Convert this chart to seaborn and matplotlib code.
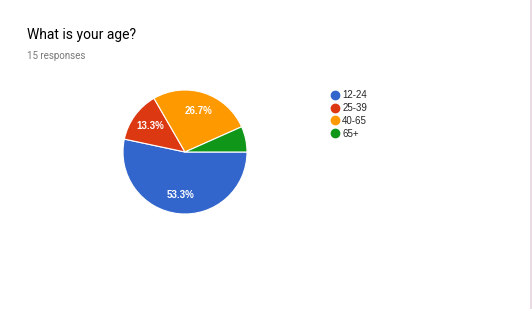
import matplotlib
matplotlib.use("Agg")
import matplotlib.pyplot as plt
import seaborn as sns
from matplotlib.lines import Line2D

sns.set_theme(style="white")
plt.rcParams['font.family'] = ['Roboto', 'DejaVu Sans']

categories = ["12-24", "25-39", "40-65", "65+"]
counts = [8, 2, 4, 1]
colors = ["#3366cc", "#dc3912", "#ff9900", "#109618"]
title = "What is your age?"
subtitle = "15 responses"

W, H = 532, 309
fig = plt.figure(figsize=(W / 100, H / 100), dpi=100)
fig.patch.set_facecolor("white")

ax = fig.add_axes([123 / W, (H - 214) / H, 124 / W, 124 / H])

def fmt(p):
    return f"{p:.1f}%" if p > 8 else ""

wedges, texts, autotexts = ax.pie(
    counts, colors=colors, startangle=0, counterclock=False,
    autopct=fmt, pctdistance=0.7,
    wedgeprops=dict(edgecolor="white", linewidth=0.8),
    textprops=dict(color="white", fontsize=7, fontweight="bold", family=['Liberation Sans', 'DejaVu Sans']),
)
ax.set_aspect("equal")
ax.set_xlim(-1.0, 1.0)
ax.set_ylim(-1.0, 1.0)

fig.text(27 / W, 1 - 35 / H, title, fontsize=10, color="#000000", va="center", ha="left")
fig.text(27 / W, 1 - 56 / H, subtitle, fontsize=7, color="#777777", va="center", ha="left")

handles = [Line2D([0], [0], marker="o", linestyle="", markersize=6,
                  markerfacecolor=c, markeredgecolor=c) for c in colors]
leg = fig.legend(handles, categories, loc="upper left",
                 bbox_to_anchor=(329 / W, 1 - 90 / H), frameon=False,
                 handletextpad=0.15, labelspacing=0.3,
                 handlelength=1.2, borderaxespad=0, borderpad=0,
                 prop=dict(family=['Liberation Sans', 'DejaVu Sans'], size=7))

fig.add_artist(Line2D([530.5 / W, 530.5 / W], [0, 1], transform=fig.transFigure,
                      color="#e6d3dc", linewidth=1.2))

fig.savefig("out.png", dpi=100, facecolor="white")
